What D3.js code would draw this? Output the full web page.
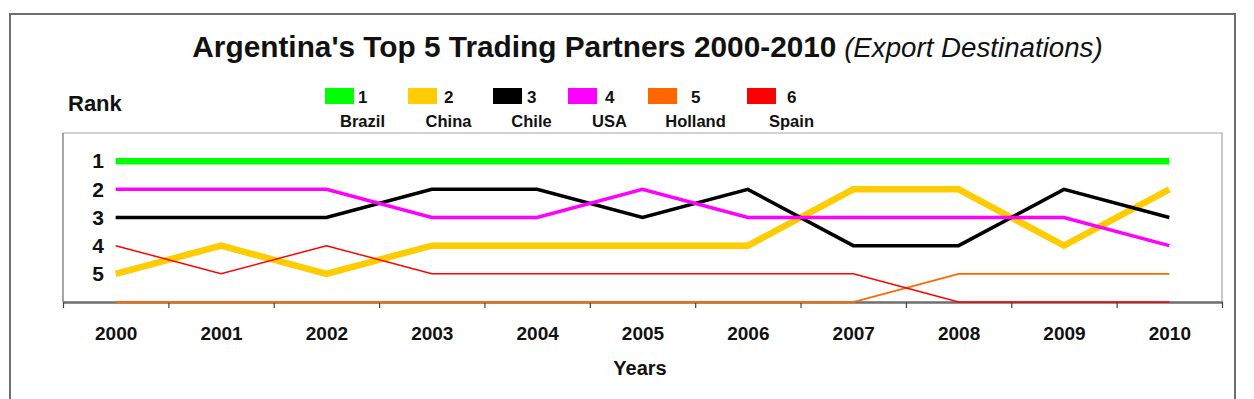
<!DOCTYPE html>
<html>
<head>
<meta charset="utf-8">
<script src="https://cdn.jsdelivr.net/npm/d3@7"></script>
<style>
  html, body { margin: 0; padding: 0; background: #fff; }
  svg { display: block; font-family: "Liberation Sans", Arial, sans-serif; }
</style>
</head>
<body>
<svg id="chart" width="1254" height="399"></svg>
<script>
// ---- data ----
const years = ["2000","2001","2002","2003","2004","2005","2006","2007","2008","2009","2010"];
const countries = ["Brazil","China","Chile","USA","Holland","Spain"];
const legendNumbers = ["1","2","3","4","5","6"];
const colors = ["#00ff00","#ffcc00","#000000","#ff00ff","#ff6600","#ff0000"];
const brazil  = [1,1,1,1,1,1,1,1,1,1,1];
const china   = [5,4,5,4,4,4,4,2,2,4,2];
const chile   = [3,3,3,2,2,3,2,4,4,2,3];
const usa     = [2,2,2,3,3,2,3,3,3,3,4];
const holland = [6,6,6,6,6,6,6,6,5,5,5];
const spain   = [4,5,4,5,5,5,5,5,6,6,6];
const rankTicks = [1,2,3,4,5];
const titleMain = "Argentina's Top 5 Trading Partners 2000-2010";
const titleSub = "(Export Destinations)";
const xTitle = "Years";
const yTitle = "Rank";

const seriesValues = [brazil, china, chile, usa, holland, spain];
const lineWidths = [6.5, 6.5, 3.5, 3.5, 1.8, 1.5];

// ---- layout ----
const svg = d3.select("#chart");
const plot = {left: 63, right: 1222, top: 133, bottom: 302};

// outer frame
svg.append("rect").attr("x", 10).attr("y", 14).attr("width", 1225).attr("height", 420)
  .attr("fill", "none").attr("stroke", "#6e6e6e").attr("stroke-width", 2);

// title
const title = svg.append("text").attr("x", 647.5).attr("y", 57).attr("text-anchor", "middle")
  .attr("fill", "#111");
title.append("tspan").attr("font-weight", "bold").attr("font-size", 29.8).text(titleMain);
title.append("tspan").attr("font-style", "italic").attr("font-size", 27.7).text(" " + titleSub);

// Rank label
svg.append("text").attr("x", 68).attr("y", 111).attr("font-weight", "bold").attr("font-size", 22)
  .attr("fill", "#111").text(yTitle);

// legend
const swatchX = [325, 408, 493, 568, 648, 747];
const numberX = [358, 444, 527, 605, 691, 787];
const lg = svg.append("g");
countries.forEach((c, i) => {
  lg.append("rect").attr("x", swatchX[i]).attr("y", 88).attr("width", 29).attr("height", 16)
    .attr("fill", colors[i]);
  lg.append("text").attr("x", numberX[i]).attr("y", 103).attr("font-weight", "bold")
    .attr("font-size", 17).attr("fill", "#111").text(legendNumbers[i]);
  lg.append("text").attr("x", numberX[i] + 4.5).attr("y", 127).attr("text-anchor", "middle")
    .attr("font-weight", "bold").attr("font-size", 16.5).attr("fill", "#111").text(c);
});

// scales
const x = d3.scalePoint().domain(years).range([plot.left, plot.right]).padding(0.5);
const y = d3.scaleLinear().domain([0, 6]).range([plot.top, plot.bottom]);
const edge = d3.scaleLinear().domain([0, years.length]).range([plot.left, plot.right]);

// plot area border (top, right)
svg.append("path")
  .attr("d", `M${plot.left},${plot.top}H${plot.right}V${plot.bottom}`)
  .attr("fill", "none").attr("stroke", "#a6a6a6").attr("stroke-width", 1.2);
// y axis line
svg.append("line").attr("x1", plot.left).attr("x2", plot.left).attr("y1", plot.top).attr("y2", plot.bottom)
  .attr("stroke", "#888").attr("stroke-width", 1.5);

// x axis: edge ticks
const xEdgeAxis = svg.append("g").attr("transform", `translate(0,${plot.bottom})`)
  .call(d3.axisBottom(edge).tickValues(d3.range(0, years.length + 1)).tickSize(6).tickSizeOuter(0).tickFormat(""));
xEdgeAxis.select(".domain").attr("stroke", "#6e6e6e").attr("stroke-width", 2.5);
xEdgeAxis.selectAll(".tick line").attr("stroke", "#444").attr("stroke-width", 1.2);

// x labels
const xLab = svg.append("g").attr("transform", `translate(0,${plot.bottom})`)
  .call(d3.axisBottom(x).tickSize(0).tickPadding(0));
xLab.select(".domain").remove();
xLab.selectAll("text").attr("y", 38).attr("dy", null).attr("font-weight", "bold")
  .attr("font-size", 19).attr("font-family", "Liberation Sans, Arial, sans-serif").attr("fill", "#111");

svg.append("text").attr("x", 640).attr("y", 375).attr("text-anchor", "middle")
  .attr("font-weight", "bold").attr("font-size", 20).attr("fill", "#111").text(xTitle);

// y labels
const yLab = svg.append("g").attr("transform", `translate(104,0)`)
  .call(d3.axisLeft(y).tickValues(rankTicks).tickSize(0).tickPadding(0).tickFormat(d3.format("d")));
yLab.select(".domain").remove();
yLab.selectAll("text").attr("font-weight", "bold").attr("font-size", 21)
  .attr("font-family", "Liberation Sans, Arial, sans-serif").attr("fill", "#111");

// lines
const line = d3.line().x((d, i) => x(years[i])).y(d => y(d));
seriesValues.forEach((vals, i) => {
  svg.append("path").datum(vals).attr("d", line)
    .attr("fill", "none").attr("stroke", colors[i]).attr("stroke-width", lineWidths[i])
    .attr("stroke-linejoin", "miter").attr("stroke-linecap", "butt");
});
</script>
</body>
</html>
